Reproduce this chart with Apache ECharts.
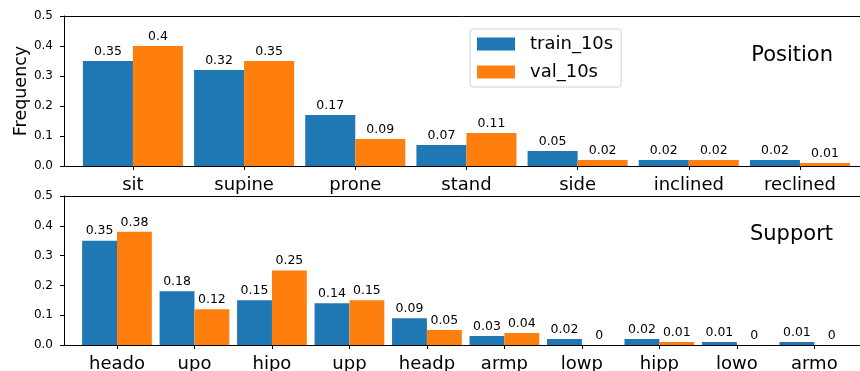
<!DOCTYPE html>
<html>
<head>
<meta charset="utf-8">
<script src="https://cdn.jsdelivr.net/npm/echarts@6/dist/echarts.min.js"></script>
<style>
html,body{margin:0;padding:0;background:#fff;}
#c{width:860px;height:371px;}
</style>
</head>
<body>
<div id="c"></div>
<script>
const positionCats = ['sit', 'supine', 'prone', 'stand', 'side', 'inclined', 'reclined'];
const positionTrain = [0.35, 0.32, 0.17, 0.07, 0.05, 0.02, 0.02];
const positionVal = [0.4, 0.35, 0.09, 0.11, 0.02, 0.02, 0.01];

const supportCats = ['heado', 'upo', 'hipo', 'upp', 'headp', 'armp', 'lowp', 'hipp', 'lowo', 'armo'];
const supportTrain = [0.35, 0.18, 0.15, 0.14, 0.09, 0.03, 0.02, 0.02, 0.01, 0.01];
const supportVal = [0.38, 0.12, 0.25, 0.15, 0.05, 0.04, 0, 0.01, 0, 0];

const yTicks = [0, 0.1, 0.2, 0.3, 0.4, 0.5];

const FONT = 'DejaVu Sans';
const BLUE = '#1f77b4', ORANGE = '#ff7f0e';
const GRID_LEFT = 64, GRID_W = 802;
const topRange = [-0.62, 6.594];
const botRange = [-0.684, 9.667];

function unitPx(r) { return GRID_W / (r[1] - r[0]); }

const chart = echarts.init(document.getElementById('c'), null, {renderer: 'canvas'});

function xAxisFor(cats, range, gi) {
  const idx = cats.map((_, i) => i);
  return {
    type: 'value', gridIndex: gi, min: range[0], max: range[1], position: 'bottom',
    splitLine: {show: false},
    axisLine: {show: true, onZero: false, lineStyle: {color: '#000', width: 1}},
    axisTick: {show: true, customValues: idx, length: 4, lineStyle: {color: '#000'}},
    axisLabel: {customValues: idx, formatter: v => cats[Math.round(v)] || '', fontFamily: FONT, fontSize: 18, color: '#000', margin: 10}
  };
}
function topSpine(range, gi) {
  return {
    type: 'value', gridIndex: gi, min: range[0], max: range[1], position: 'top',
    splitLine: {show: false},
    axisLine: {show: true, onZero: false, lineStyle: {color: '#000', width: 1}},
    axisTick: {show: false}, axisLabel: {show: false}
  };
}
function yAxisFor(gi, withName) {
  const a = {
    type: 'value', gridIndex: gi, min: 0, max: 0.5, interval: 0.1,
    splitLine: {show: false},
    axisLine: {show: true, onZero: false, lineStyle: {color: '#000', width: 1}},
    axisTick: {show: true, length: 4, lineStyle: {color: '#000'}},
    axisLabel: {customValues: yTicks, formatter: v => v.toFixed(1), fontFamily: FONT, fontSize: 12, color: '#000', margin: 11}
  };
  if (withName) {
    a.name = 'Frequency';
    a.nameLocation = 'middle';
    a.nameGap = 34;
    a.nameMoveOverlap = false;
    a.nameTextStyle = {fontFamily: FONT, fontSize: 17.5, color: '#000'};
  }
  return a;
}
function barSeries(name, color, vals, gi, bw) {
  return {
    type: 'bar', name: name, xAxisIndex: gi, yAxisIndex: gi,
    data: vals.map((v, i) => [i, v]),
    barWidth: bw, barGap: '0%',
    itemStyle: {color: color},
    label: {show: true, position: 'top', distance: 3, fontFamily: FONT, fontSize: 12.5, color: '#000',
            formatter: p => String(p.value[1])},
    emphasis: {disabled: true}
  };
}

const bwTop = 0.45 * unitPx(topRange);
const bwBot = 0.45 * unitPx(botRange);

chart.setOption({
  animation: false,
  textStyle: {fontFamily: FONT},
  grid: [
    {left: GRID_LEFT, width: GRID_W, top: 16, height: 150, show: false, outerBoundsMode: 'none', containLabel: false},
    {left: GRID_LEFT, width: GRID_W, top: 196, height: 149, show: false, outerBoundsMode: 'none', containLabel: false}
  ],
  legend: {
    data: ['train_10s', 'val_10s'],
    orient: 'vertical', left: 470, top: 29,
    itemWidth: 38, itemHeight: 13, itemGap: 10,
    padding: [6, 8, 6, 7],
    icon: 'rect',
    borderColor: '#d0d0d0', borderWidth: 1, borderRadius: 3,
    backgroundColor: 'rgba(255,255,255,0.8)',
    textStyle: {fontFamily: FONT, fontSize: 18, color: '#000', padding: [0, 0, 0, 10]},
    selectedMode: false
  },
  xAxis: [xAxisFor(positionCats, topRange, 0), xAxisFor(supportCats, botRange, 1), topSpine(topRange, 0), topSpine(botRange, 1)],
  yAxis: [yAxisFor(0, true), yAxisFor(1, false)],
  series: [
    barSeries('train_10s', BLUE, positionTrain, 0, bwTop),
    barSeries('val_10s', ORANGE, positionVal, 0, bwTop),
    barSeries('train_10s', BLUE, supportTrain, 1, bwBot),
    barSeries('val_10s', ORANGE, supportVal, 1, bwBot)
  ],
  graphic: [
    {type: 'text', x: 833, y: 56, style: {text: 'Position', fontFamily: FONT, fontSize: 21, fill: '#000', align: 'right', verticalAlign: 'middle'}},
    {type: 'text', x: 833, y: 235, style: {text: 'Support', fontFamily: FONT, fontSize: 21, fill: '#000', align: 'right', verticalAlign: 'middle'}}
  ]
});
</script>
</body>
</html>
